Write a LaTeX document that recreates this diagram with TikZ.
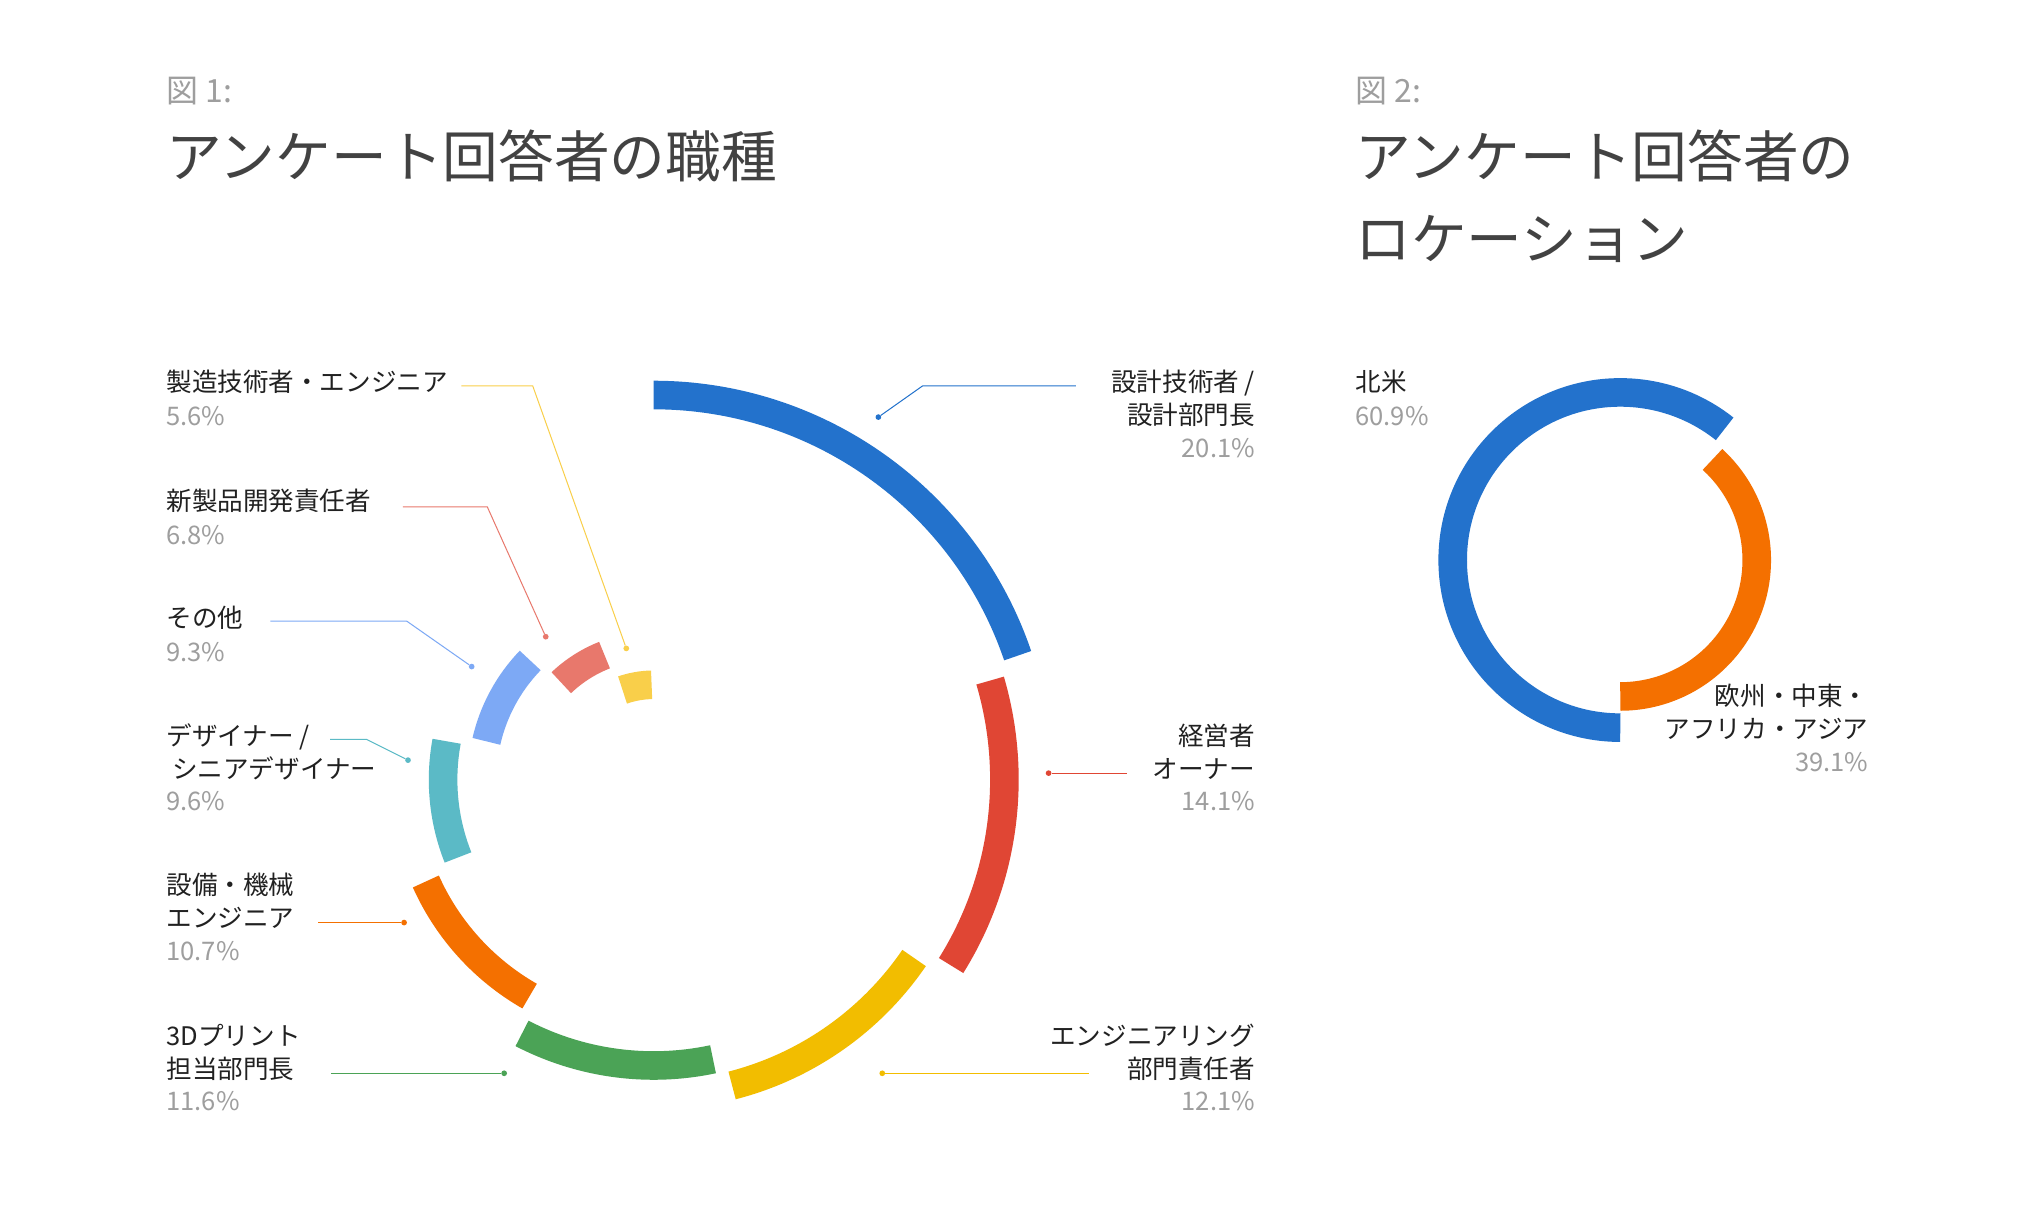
\documentclass[tikz,border=0pt]{standalone}
\usepackage{fontspec}
\setmainfont{Noto Sans CJK JP}
\definecolor{cblue}{HTML}{2372CC}
\definecolor{cred}{HTML}{E04634}
\definecolor{cyel}{HTML}{F2BD00}
\definecolor{cgreen}{HTML}{4BA356}
\definecolor{corange}{HTML}{F47000}
\definecolor{ccyan}{HTML}{5BBAC6}
\definecolor{clblue}{HTML}{7DA9F5}
\definecolor{csalmon}{HTML}{E8786C}
\definecolor{cyel2}{HTML}{F9CF4A}
\definecolor{cgrey}{HTML}{9E9E9E}
\definecolor{ctext}{HTML}{212121}
\newcommand\mkseg[5]{\draw[#1,line width=11mm] ([shift=(#3:#2)]#5) arc (#3:#4:#2);}
\begin{document}
\begin{tikzpicture}[x=0.5mm,y=0.5mm,
  lab/.style={font=\fontsize{28}{36}\selectfont,text=ctext,inner sep=0,align=left},
  labr/.style={lab,align=right},
  pct/.style={font=\fontsize{28}{36}\selectfont,text=cgrey,inner sep=0},
  fig/.style={font=\fontsize{35}{40}\selectfont,text=cgrey,inner sep=0,anchor=west},
  ttl/.style={font=\fontsize{61}{90}\selectfont,text=ctext!85,inner sep=0,anchor=north west,align=left},
  lead/.style={line width=1.1pt},
  dot/.style={circle,fill,inner sep=0,minimum size=2.2mm}]
\fill[white] (0,0) rectangle (1560,-934);
\coordinate (c1) at (503,-600);
\coordinate (c2) at (1247,-431);
% titles
\node[fig] (f1) at (128,-70) {図 1:};
\node[ttl] (t1) at (128,-100) {アンケート回答者の職種};
\node[fig] (f2) at (1043,-70) {図 2:};
\node[ttl] (t2) at (1043,-100) {アンケート回答者の\\ロケーション};
% chart 1
\mkseg{cblue}{296}{90}{18.8}{c1}
\mkseg{cred}{270}{16.4}{-32}{c1}
\mkseg{cyel}{243}{-34.4}{-75.6}{c1}
\mkseg{cgreen}{220}{-78}{-117.4}{c1}
\mkseg{corange}{192}{-119.8}{-155.9}{c1}
\mkseg{ccyan}{162}{-158.3}{-190.5}{c1}
\mkseg{clblue}{132}{-192.9}{-224}{c1}
\mkseg{csalmon}{103}{-226.4}{-248.5}{c1}
\mkseg{cyel2}{73}{-250.9}{-268.8}{c1}
% chart 2
\mkseg{cblue}{129}{-90}{-308.5}{c2}
\mkseg{corange}{105}{47.5}{-90}{c2}
% labels chart1 right
\node[labr,anchor=north east] (l1) at (966,-285) {設計技術者 /\\設計部門長};
\node[pct,anchor=north east] (p1) at (966,-337) {20.1\%};
\node[labr,anchor=north east] (l2) at (966,-557) {経営者\\オーナー};
\node[pct,anchor=north east] (p2) at (966,-609) {14.1\%};
\node[labr,anchor=north east] (l3) at (966,-788) {エンジニアリング\\部門責任者};
\node[pct,anchor=north east] (p3) at (966,-840) {12.1\%};
% left
\node[lab,anchor=north west] (l4) at (128,-788) {3Dプリント\\担当部門長};
\node[pct,anchor=north west] (p4) at (128,-840) {11.6\%};
\node[lab,anchor=north west] (l5) at (128,-672) {設備・機械\\エンジニア};
\node[pct,anchor=north west] (p5) at (128,-724) {10.7\%};
\node[lab,anchor=north west] (l6) at (128,-557) {デザイナー /\\\ シニアデザイナー};
\node[pct,anchor=north west] (p6) at (128,-609) {9.6\%};
\node[lab,anchor=north west] (l7) at (128,-466) {その他};
\node[pct,anchor=north west] (p7) at (128,-494) {9.3\%};
\node[lab,anchor=north west] (l8) at (128,-376) {新製品開発責任者};
\node[pct,anchor=north west] (p8) at (128,-404) {6.8\%};
\node[lab,anchor=north west] (l9) at (128,-285) {製造技術者・エンジニア};
\node[pct,anchor=north west] (p9) at (128,-313) {5.6\%};
% chart 2 labels
\node[lab,anchor=north west] (l10) at (1043,-285) {北米};
\node[pct,anchor=north west] (p10) at (1043,-313) {60.9\%};
\node[labr,anchor=north east] (l11) at (1438,-526) {欧州・中東・\\アフリカ・アジア};
\node[pct,anchor=north east] (p11) at (1438,-579) {39.1\%};
% leaders
\node[dot,cblue] (d1) at (676,-321) {};
\coordinate (e1) at (828,-297);
\draw[lead,cblue] (d1) -- (710,-297) -- (e1);
\node[dot,cred] (d2) at (807,-595) {};
\coordinate (e2) at (867,-595);
\draw[lead,cred] (d2) -- (e2);
\node[dot,cyel] (d3) at (679,-826) {};
\coordinate (e3) at (838,-826);
\draw[lead,cyel] (d3) -- (e3);
\node[dot,cgreen] (d4) at (388,-826) {};
\coordinate (e4) at (255,-826);
\draw[lead,cgreen] (e4) -- (d4);
\node[dot,corange] (d5) at (311,-710) {};
\coordinate (e5) at (245,-710);
\draw[lead,corange] (e5) -- (d5);
\node[dot,ccyan] (d6) at (314,-585) {};
\coordinate (e6) at (254,-569);
\draw[lead,ccyan] (e6) -- (282,-569) -- (d6);
\node[dot,clblue] (d7) at (363,-513) {};
\coordinate (e7) at (208,-478);
\draw[lead,clblue] (e7) -- (313,-478) -- (d7);
\node[dot,csalmon] (d8) at (420,-490) {};
\coordinate (e8) at (310,-390);
\draw[lead,csalmon] (e8) -- (375,-390) -- (d8);
\node[dot,cyel2] (d9) at (482,-499) {};
\coordinate (e9) at (355,-297);
\draw[lead,cyel2] (e9) -- (410,-297) -- (d9);
\end{tikzpicture}
\end{document}
